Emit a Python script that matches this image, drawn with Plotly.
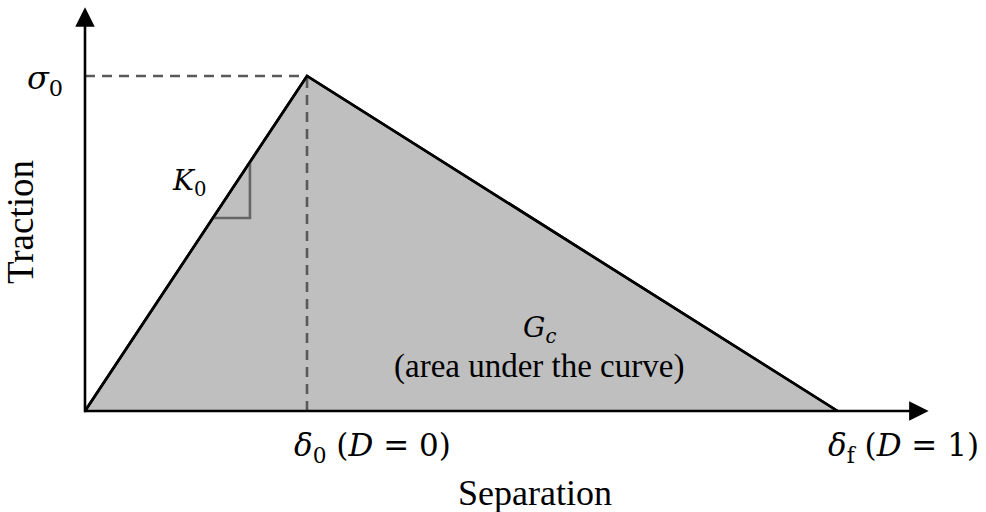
import plotly.graph_objects as go

# Data (normalized units)
separation = [0.0, 1.0, 3.39]      # 0, delta_0, delta_f
traction = [0.0, 1.0, 0.0]          # 0, sigma_0, 0
delta0 = 1.0
sigma0 = 1.0
x_axis_end = 3.80
y_axis_end = 1.205
slope_tri = [0.576, 0.743]          # slope marker extent along the line

# pixel <-> data mapping of the drawing area (origin at px (85, 411))
X0, Y0, SX, SY = 85, 411, 222, 335
def px(xp, yp):
    return (xp - X0) / SX, (Y0 - yp) / SY

fig = go.Figure()

fig.add_trace(go.Scatter(x=separation, y=traction, mode="lines", fill="toself",
                         fillcolor="#bfbfbf", line=dict(color="black", width=2.6),
                         hoverinfo="skip"))
fig.add_trace(go.Scatter(x=[0, delta0], y=[sigma0, sigma0], mode="lines",
                         line=dict(color="#595959", width=2.6, dash="10px,7px")))
fig.add_trace(go.Scatter(x=[delta0, delta0], y=[0, sigma0], mode="lines",
                         line=dict(color="#595959", width=2.6, dash="10px,7px")))
t1, t2 = slope_tri
fig.add_trace(go.Scatter(x=[t1 * delta0, t2 * delta0, t2 * delta0],
                         y=[t1 * sigma0, t1 * sigma0, t2 * sigma0], mode="lines",
                         line=dict(color="#666666", width=2.6)))
fig.add_trace(go.Scatter(x=separation, y=traction, mode="lines",
                         line=dict(color="black", width=2.6)))

serif = "Liberation Serif, Times New Roman, serif"
math = "DejaVu Serif, serif"
ann = []
ann.append(dict(x=x_axis_end, y=0, ax=-0.01, ay=0, xref="x", yref="y", axref="x", ayref="y",
                showarrow=True, arrowhead=2, arrowsize=1.5, arrowwidth=2.6, arrowcolor="black", text=""))
ann.append(dict(x=0, y=y_axis_end, ax=0, ay=-0.008, xref="x", yref="y", axref="x", ayref="y",
                showarrow=True, arrowhead=2, arrowsize=1.5, arrowwidth=2.6, arrowcolor="black", text=""))

def txt(xp, yp, s, size=30, family=serif, **kw):
    x, y = px(xp, yp)
    d = dict(x=x, y=y, xref="x", yref="y", text=s, showarrow=False,
             xanchor="center", yanchor="middle",
             font=dict(family=family, size=size, color="black"))
    d.update(kw)
    ann.append(d)

txt(45, 80, "<i>σ</i><sub>0</sub>", size=32, family=math)
txt(189, 182, "<i>K</i><sub>0</sub>", size=28, family=math)
txt(372, 447, "<i>δ</i><sub>0</sub> (<i>D</i> = 0)", size=31, family=math)
txt(903, 447, "<i>δ</i><sub>f</sub> (<i>D</i> = 1)", size=31, family=math)
txt(539, 329, "<i>G</i><sub><i>c</i></sub>", size=28, family=math)
txt(539, 366, "(area under the curve)", size=33)
txt(535, 493, "Separation", size=36)
txt(20, 222, "Traction", size=37, textangle=-90)

fig.update_layout(
    width=986, height=512, margin=dict(l=0, r=0, t=0, b=0),
    paper_bgcolor="white", plot_bgcolor="white", showlegend=False,
    xaxis=dict(range=[-X0 / SX, (986 - X0) / SX], visible=False, fixedrange=True),
    yaxis=dict(range=[-(512 - Y0) / SY, Y0 / SY], visible=False, fixedrange=True),
    annotations=ann,
)
fig.write_html("out.html", config={"displayModeBar": False},
               post_script="document.body.style.margin='0';")
